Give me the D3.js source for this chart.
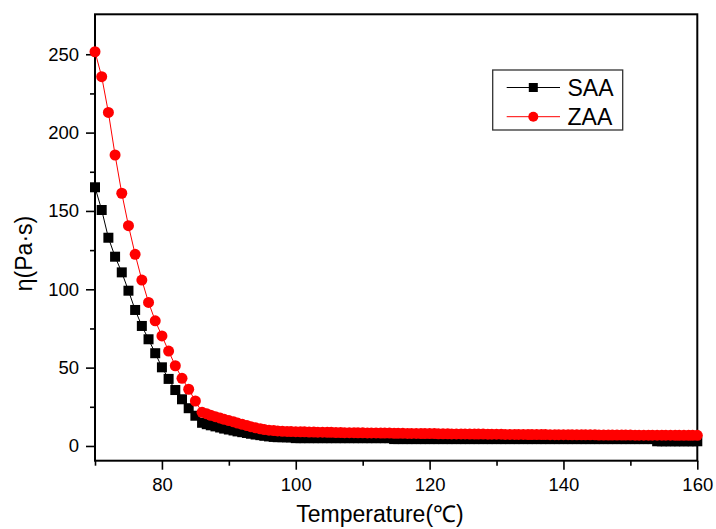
<!DOCTYPE html>
<html>
<head>
<meta charset="utf-8">
<script src="https://cdn.jsdelivr.net/npm/d3@7"></script>
<style>
  html, body { margin: 0; padding: 0; background: #fff; }
  svg { display: block; }
  text { font-family: "Liberation Sans", Arial, sans-serif; }
</style>
</head>
<body>
<svg id="chart" width="716" height="529"></svg>
<script>
// ---- data ----
const temperature = [
  70,71,72,73,74,75,76,77,78,79,80,81,82,83,84,85,
  86,86.7,87.3, 88,88.7,89.3, 90,90.7,91.3, 92,92.7,93.3, 94,94.7,95.3,
  96,96.7,97.3, 98,98.7,99.3, 100,100.7,101.3, 102,102.7,103.3, 104,104.7,105.3,
  106,106.7,107.3, 108,108.7,109.3, 110,110.7,111.3, 112,112.7,113.3, 114,114.7,115.3,
  116,116.7,117.3, 118,118.7,119.3, 120,120.7,121.3, 122,122.7,123.3, 124,124.7,125.3,
  126,126.7,127.3, 128,128.7,129.3, 130,130.7,131.3, 132,132.7,133.3, 134,134.7,135.3,
  136,136.7,137.3, 138,138.7,139.3, 140,140.7,141.3, 142,142.7,143.3, 144,144.7,145.3,
  146,146.7,147.3, 148,148.7,149.3, 150,150.7,151.3, 152,152.7,153.3, 154,154.7,155.3,
  156,156.7,157.3, 158,158.7,159.3, 160
];
const saa = [
  165.1,150.6,132.9,120.8,110.8,99.1,86.8,76.6,68.1,59.2,50.2,42.8,35.7,29.8,24.1,19.3,
  14.8,13.9,13.2, 12.5,11.8,11.1, 10.5,9.9,9.3, 8.8,8.3,7.8, 7.3,6.9,6.5,
  6.1,5.8,5.6, 5.6,5.5,5.5, 5.0,5.0,5.0, 5.0,5.0,5.0, 5.0,5.0,5.0,
  5.0,5.0,5.0, 5.0,5.0,5.0, 5.0,5.0,5.0, 5.0,5.0,5.0, 5.0,4.4,4.4,
  4.4,4.4,4.4, 4.4,4.4,4.4, 4.4,4.4,4.4, 4.4,4.4,4.4, 4.4,4.4,4.4,
  4.4,4.4,4.4, 4.4,4.4,4.4, 4.4,4.4,4.4, 4.4,4.4,4.4, 4.4,4.4,4.4,
  4.4,4.4,4.4, 4.4,4.4,4.4, 4.4,4.4,4.4, 4.4,4.4,4.4, 4.4,4.4,4.4,
  4.4,4.4,4.4, 4.4,4.4,4.4, 4.4,4.4,4.4, 4.4,4.4,4.4, 3.0,3.0,3.0,
  3.0,3.0,3.0, 3.0,3.0,3.0, 3.0
];
const zaa = [
  251.6,235.7,212.9,185.7,161.3,140.6,122.3,105.9,91.6,79.9,70.2,60.6,51.2,43.2,36.2,28.7,
  21.5,20.5,19.6, 18.7,17.8,17.0, 16.2,15.4,14.6, 13.8,13.0,12.3, 11.6,11.0,10.5,
  10.1,9.8,9.6, 9.4,9.3,9.2, 9.1,9.0,9.0, 8.9,8.9,8.8, 8.8,8.7,8.7,
  8.6,8.6,8.5, 8.5,8.5,8.4, 8.4,8.3,8.3, 8.3,8.2,8.2, 8.2,8.1,8.1,
  8.1,8.0,8.0, 8.0,7.9,7.9, 7.9,7.9,7.8, 7.8,7.8,7.7, 7.7,7.7,7.7,
  7.6,7.6,7.6, 7.6,7.5,7.5, 7.5,7.5,7.4, 7.4,7.4,7.4, 7.4,7.3,7.3,
  7.3,7.3,7.3, 7.2,7.2,7.2, 7.2,7.2,7.1, 7.1,7.1,7.1, 7.1,7.1,7.0,
  7.0,7.0,7.0, 7.0,7.0,7.0, 7.0,6.9,6.9, 6.9,6.9,6.9, 6.9,6.9,6.9,
  6.9,6.8,6.8, 6.8,6.8,6.8, 6.8
];
const seriesNames = ["SAA", "ZAA"];
const xTicksMajor = [80, 100, 120, 140, 160];
const xTicksMinor = [70, 90, 110, 130, 150];
const yTicksMajor = [0, 50, 100, 150, 200, 250];
const yTicksMinor = [25, 75, 125, 175, 225];
const xTitle = "Temperature(℃)";
const yTitle = "η(Pa·s)";

// ---- layout ----
const svg = d3.select("#chart");
const L = 95, R = 697.3, T = 14.3, B = 460.7;
const x = d3.scaleLinear().domain([70, 160]).range([L, R]);
const y = d3.scaleLinear().domain([-9.4, 275.5]).range([B, T]);

// axes
const fontTick = "18.5px";
const gx = svg.append("g").attr("transform", `translate(0,${B})`)
  .call(d3.axisBottom(x).tickValues(xTicksMajor).tickSize(9).tickPadding(8).tickFormat(d3.format("d")));
const gxm = svg.append("g").attr("transform", `translate(0,${B})`)
  .call(d3.axisBottom(x).tickValues(xTicksMinor).tickSize(5).tickFormat(""));
const gy = svg.append("g").attr("transform", `translate(${L},0)`)
  .call(d3.axisLeft(y).tickValues(yTicksMajor).tickSize(9).tickPadding(7).tickFormat(d3.format("d")));
const gym = svg.append("g").attr("transform", `translate(${L},0)`)
  .call(d3.axisLeft(y).tickValues(yTicksMinor).tickSize(5).tickFormat(""));
[gx, gxm, gy, gym].forEach(g => {
  g.select(".domain").remove();
  g.selectAll(".tick line").attr("stroke", "#000").attr("stroke-width", 1.6);
  g.selectAll(".tick text").attr("fill", "#000").style("font-size", fontTick)
    .style("font-family", "'Liberation Sans', Arial, sans-serif");
});
gx.selectAll(".tick text").attr("dy", "0.71em");

// frame
svg.append("rect").attr("x", L).attr("y", T).attr("width", R - L).attr("height", B - T)
  .attr("fill", "none").attr("stroke", "#000").attr("stroke-width", 2);

// series
const saaPts = temperature.map((t, i) => [t, saa[i]]);
const zaaPts = temperature.map((t, i) => [t, zaa[i]]);
const line = d3.line().x(d => x(d[0])).y(d => y(d[1]));
const sq = 10, cr = 5.5;

svg.append("path").datum(saaPts).attr("d", line).attr("fill", "none").attr("stroke", "#000").attr("stroke-width", 1);
svg.append("g").selectAll("rect").data(saaPts).join("rect")
  .attr("x", d => x(d[0]) - sq / 2).attr("y", d => y(d[1]) - sq / 2)
  .attr("width", sq).attr("height", sq).attr("fill", "#000");

svg.append("path").datum(zaaPts).attr("d", line).attr("fill", "none").attr("stroke", "#ff0000").attr("stroke-width", 1);
svg.append("g").selectAll("circle").data(zaaPts).join("circle")
  .attr("cx", d => x(d[0])).attr("cy", d => y(d[1])).attr("r", cr).attr("fill", "#ff0000");

// legend
const lg = svg.append("g");
lg.append("rect").attr("x", 492.7).attr("y", 70).attr("width", 130).attr("height", 60)
  .attr("fill", "#fff").attr("stroke", "#333").attr("stroke-width", 1.3);
const legRows = [
  { name: seriesNames[0], color: "#000", shape: "square", cy: 87.5, base: 95.5 },
  { name: seriesNames[1], color: "#ff0000", shape: "circle", cy: 116.7, base: 124.5 }
];
legRows.forEach(r => {
  lg.append("line").attr("x1", 506.7).attr("x2", 560).attr("y1", r.cy).attr("y2", r.cy)
    .attr("stroke", r.color).attr("stroke-width", 1);
  if (r.shape === "square") {
    lg.append("rect").attr("x", 533.3 - 4.5).attr("y", r.cy - 4.5).attr("width", 9).attr("height", 9).attr("fill", r.color);
  } else {
    lg.append("circle").attr("cx", 533.3).attr("cy", r.cy).attr("r", 5).attr("fill", r.color);
  }
  lg.append("text").attr("x", 567.5).attr("y", r.base).text(r.name)
    .style("font-size", "23px").attr("fill", "#000");
});

// titles
svg.append("text").attr("x", 380).attr("y", 521.5).attr("text-anchor", "middle")
  .style("font-size", "23px").attr("fill", "#000").text(xTitle);
svg.append("text").attr("transform", "translate(32,253.5) rotate(-90)").attr("text-anchor", "middle")
  .style("font-size", "23px").attr("fill", "#000").text(yTitle);
</script>
</body>
</html>
